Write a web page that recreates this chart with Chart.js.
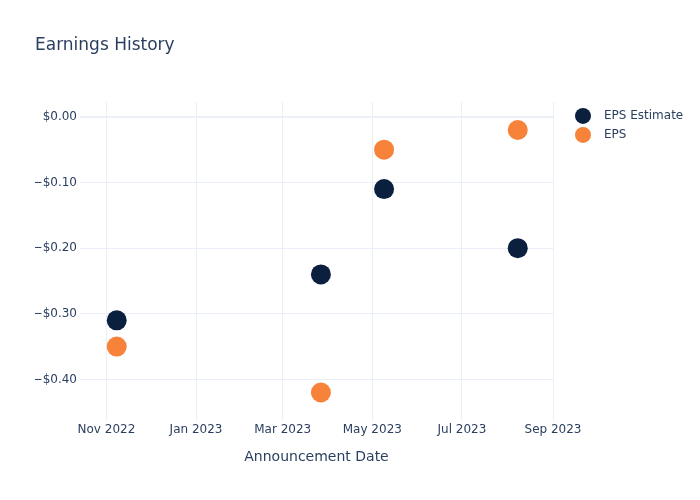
<!DOCTYPE html>
<html>
<head>
<meta charset="utf-8">
<script src="https://cdn.jsdelivr.net/npm/chart.js@4.4.0/dist/chart.umd.min.js"></script>
<style>
  html, body { margin: 0; padding: 0; background: #fff; }
  #wrap { width: 700px; height: 500px; }
</style>
</head>
<body>
<div id="wrap"><canvas id="grafico" width="700" height="500"></canvas></div>
<script>
// dados do gráfico
const datas = ['2022-11-08', '2023-03-27', '2023-05-09', '2023-08-08'];
const epsEstimate = [-0.31, -0.24, -0.11, -0.20];
const eps = [-0.35, -0.42, -0.05, -0.02];
const xTicks = ['2022-11-01', '2023-01-01', '2023-03-01', '2023-05-01', '2023-07-01', '2023-09-01'];
const xTickLabels = ['Nov 2022', 'Jan 2023', 'Mar 2023', 'May 2023', 'Jul 2023', 'Sep 2023'];
const yTicks = [0, -0.1, -0.2, -0.3, -0.4];
const xMin = '2022-10-14';
const xMax = '2023-09-01';
const yMin = -0.4634;
const yMax = 0.0228;

const corTexto = '#2a3f5f';
const corGrade = '#ebf0f8';
const fonte = 'DejaVu Sans';

const ts = d => new Date(d).getTime();

function formatarDolar(v) {
    const s = '$' + Math.abs(v).toFixed(2);
    return v < -1e-9 ? '\u2212' + s : s;
}

// legenda desenhada à direita da área do gráfico
const legendaPlugin = {
    id: 'legendaLateral',
    afterDraw(chart) {
        const ctx = chart.ctx;
        const area = chart.chartArea;
        ctx.save();
        chart.data.datasets.forEach((ds, i) => {
            const y = area.top + 14 + i * 19;
            ctx.beginPath();
            ctx.arc(area.right + 30, y, 8, 0, Math.PI * 2);
            ctx.fillStyle = ds.backgroundColor;
            ctx.fill();
            ctx.fillStyle = corTexto;
            ctx.font = '12px ' + fonte;
            ctx.textBaseline = 'middle';
            ctx.textAlign = 'left';
            ctx.fillText(ds.label, area.right + 51, y);
        });
        ctx.restore();
    }
};

new Chart(document.getElementById('grafico').getContext('2d'), {
    type: 'scatter',
    data: {
        datasets: [{
            label: 'EPS Estimate',
            data: datas.map((d, i) => ({ x: ts(d), y: epsEstimate[i] })),
            backgroundColor: '#0b1f3f',
            borderWidth: 0,
            pointRadius: 10,
            pointHoverRadius: 10
        }, {
            label: 'EPS',
            data: datas.map((d, i) => ({ x: ts(d), y: eps[i] })),
            backgroundColor: '#f7823a',
            borderWidth: 0,
            pointRadius: 10,
            pointHoverRadius: 10
        }]
    },
    options: {
        responsive: false,
        animation: false,
        layout: { padding: { left: 35, right: 147, top: 0, bottom: 0 } },
        plugins: {
            legend: { display: false },
            tooltip: { enabled: false },
            title: {
                display: true,
                text: 'Earnings History',
                align: 'start',
                color: corTexto,
                font: { family: fonte, size: 17, weight: 'normal' },
                padding: { top: 35, bottom: 46.5 }
            }
        },
        scales: {
            x: {
                type: 'linear',
                min: ts(xMin),
                max: ts(xMax),
                afterBuildTicks: s => { s.ticks = xTicks.map(d => ({ value: ts(d) })); },
                afterFit: s => { s.height = 79; },
                border: { display: false },
                grid: { color: corGrade, drawTicks: false },
                ticks: {
                    color: corTexto,
                    padding: 2,
                    maxRotation: 0,
                    font: { family: fonte, size: 12 },
                    callback: (v, i) => xTickLabels[i]
                },
                title: {
                    display: true,
                    text: 'Announcement Date',
                    color: corTexto,
                    font: { family: fonte, size: 14 },
                    padding: { top: 0, bottom: 34.6 }
                }
            },
            y: {
                min: yMin,
                max: yMax,
                afterBuildTicks: s => { s.ticks = yTicks.map(v => ({ value: v })); },
                afterFit: s => { s.width = 45; },
                border: { display: false },
                grid: {
                    color: corGrade,
                    drawTicks: false,
                    lineWidth: c => (c.tick && Math.abs(c.tick.value) < 1e-9 ? 2 : 1)
                },
                ticks: {
                    color: corTexto,
                    padding: 3,
                    font: { family: fonte, size: 12 },
                    callback: v => formatarDolar(v)
                }
            }
        }
    },
    plugins: [legendaPlugin]
});
</script>
</body>
</html>
